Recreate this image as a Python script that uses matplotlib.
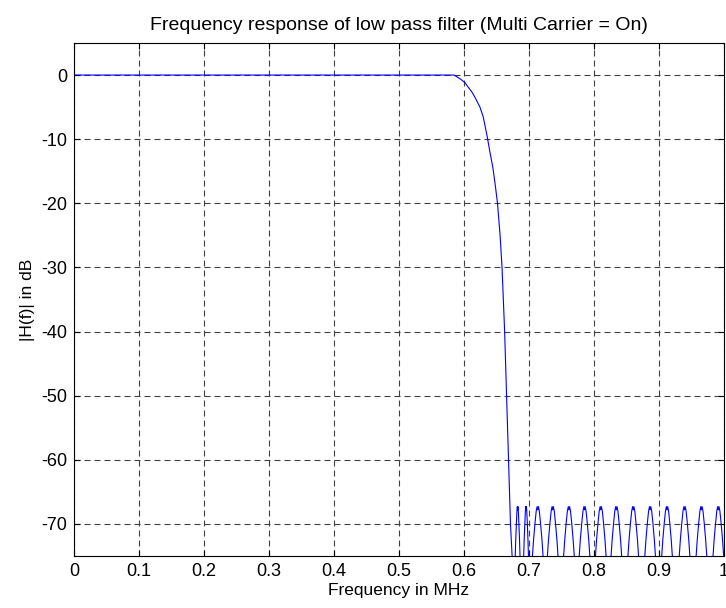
import numpy as np
import matplotlib
matplotlib.use("Agg")
import matplotlib.pyplot as plt

plt.rcParams['font.family'] = ['Liberation Sans', 'DejaVu Sans']
plt.rcParams['axes.unicode_minus'] = False
plt.rcParams['lines.scale_dashes'] = False

# pass band + transition band
pass_freq = [0.0, 0.30, 0.585, 0.590, 0.596, 0.602, 0.607, 0.613, 0.618, 0.625,
             0.630, 0.636, 0.640, 0.645, 0.649, 0.652, 0.656, 0.659, 0.663,
             0.666, 0.669, 0.672, 0.675, 0.677]
pass_db = [0.0, 0.0, 0.0, -0.3, -0.7, -1.2, -1.9, -2.7, -3.6, -5.0,
           -6.5, -9.5, -11.8, -14.5, -17.5, -20.0, -25.0, -30.0, -40.0,
           -50.0, -60.0, -70.0, -76.0, -90.0]

# stop band side lobes: centre of each lobe and the shape of one lobe
lobe_centers = [0.683, 0.696, 0.714, 0.737, 0.762, 0.786, 0.811, 0.835,
                0.861, 0.887, 0.913, 0.940, 0.966, 0.992]
lobe_offsets = [-0.0085, -0.0065, -0.0042, -0.0024, -0.0010, 0.0, 0.0010,
                0.0024, 0.0042, 0.0065, 0.0085]
lobe_db = [-75.5, -72.5, -69.8, -68.0, -67.3, -67.8, -67.3,
           -68.0, -69.8, -72.5, -75.5]
null_db = -95.0

freq = list(pass_freq)
mag = list(pass_db)
for i, c in enumerate(lobe_centers):
    scale = 0.45 if i < 2 else 1.0   # first two lobes are narrower
    for o, d in zip(lobe_offsets, lobe_db):
        freq.append(c + o * scale)
        mag.append(d)
    # null between this lobe and the next one
    nxt = lobe_centers[i + 1] if i + 1 < len(lobe_centers) else 1.005
    freq.append((c + nxt) / 2)
    mag.append(null_db)

fig = plt.figure(figsize=(7.26, 6.08), dpi=100)
ax = fig.add_axes([0.1019, 0.0855, 0.8947, 0.8438])

ax.plot(freq, mag, color=(0, 0, 1), linewidth=0.8)

ax.set_xlim(0, 1)
ax.set_ylim(-75, 5)
ax.set_xticks(np.arange(0, 1.01, 0.1))
ax.set_xticklabels(['0', '0.1', '0.2', '0.3', '0.4', '0.5', '0.6', '0.7', '0.8', '0.9', '1'])
ax.set_yticks([0, -10, -20, -30, -40, -50, -60, -70])

ax.grid(True, color='#404040', linestyle=(0, (4.3, 2.9)), linewidth=0.8)
ax.tick_params(direction='in', length=4, width=0.8, top=True, right=True,
               labelsize=13, colors='black', pad=5)
for s in ax.spines.values():
    s.set_linewidth(0.8)

ax.set_xlabel('Frequency in MHz', fontsize=12.5, labelpad=2)
ax.set_ylabel('|H(f)| in dB', fontsize=12.5, labelpad=4)
ax.set_title('Frequency response of low pass filter (Multi Carrier = On)',
             fontsize=14, pad=9)

fig.savefig('out.png', dpi=100)
